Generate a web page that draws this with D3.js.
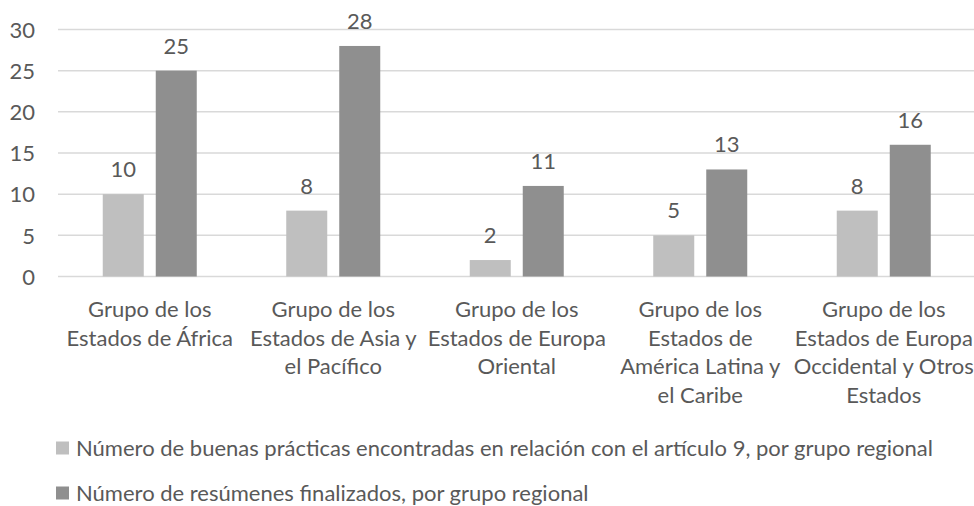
<!DOCTYPE html>
<html>
<head>
<meta charset="utf-8">
<script src="https://cdn.jsdelivr.net/npm/d3@7"></script>
<style>
  body { margin: 0; background: #fff; }
  svg text { font-family: Lato, 'Noto Sans', sans-serif; fill: #595959; }
</style>
</head>
<body>
<div id="chart"></div>
<script>
// Data
var categories = [
  'Grupo de los\nEstados de África',
  'Grupo de los\nEstados de Asia y\nel Pacífico',
  'Grupo de los\nEstados de Europa\nOriental',
  'Grupo de los\nEstados de\nAmérica Latina y\nel Caribe',
  'Grupo de los\nEstados de Europa\nOccidental y Otros\nEstados'
]
var seriesNames = [
  'Número de buenas prácticas encontradas en relación con el artículo 9, por grupo regional',
  'Número de resúmenes finalizados, por grupo regional'
]
var buenasPracticas = [10, 8, 2, 5, 8]
var resumenes = [25, 28, 11, 13, 16]
var yTicks = [0, 5, 10, 15, 20, 25, 30]

var seriesColors = ['#bfbfbf', '#8f8f8f']

var width = 974
var height = 506
var margin = { top: 29.5, left: 58, right: -1.5, bottom: 229.5 }
var fontSize = 22

var svg = d3
  .select('#chart')
  .append('svg')
  .attr('width', width)
  .attr('height', height)

var xScale = d3
  .scaleBand()
  .domain(d3.range(categories.length))
  .range([margin.left, width - margin.right])

// two bars 41px wide with a 12px gap, centred in each band
var groupWidth = 94
var innerScale = d3
  .scaleBand()
  .domain([0, 1])
  .range([xScale.bandwidth() / 2 - groupWidth / 2, xScale.bandwidth() / 2 + groupWidth / 2])
  .paddingInner(12 / 53)

var yScale = d3
  .scaleLinear()
  .domain([0, 30])
  .range([height - margin.bottom, margin.top])

// gridlines
svg.append('g')
  .selectAll('line')
  .data(yTicks)
  .enter()
  .append('line')
  .attr('x1', margin.left)
  .attr('x2', width)
  .attr('y1', d => yScale(d))
  .attr('y2', d => yScale(d))
  .attr('stroke', '#d9d9d9')
  .attr('stroke-width', 1.5)

// y axis labels
var yAxis = d3.axisLeft(yScale).tickValues(yTicks).tickSize(0).tickPadding(0)
svg.append('g')
  .attr('transform', 'translate(35,0)')
  .call(yAxis)
  .call(g => g.select('.domain').remove())
  .selectAll('text')
  .attr('font-size', fontSize)
  .attr('font-family', null)
  .attr('fill', '#595959')
  .attr('dy', '0.35em')

var rows = categories.map((c, i) => ({ i: i, values: [buenasPracticas[i], resumenes[i]] }))

var groups = svg.append('g')
  .selectAll('g')
  .data(rows)
  .enter()
  .append('g')
  .attr('transform', d => `translate(${xScale(d.i)},0)`)

groups.selectAll('rect')
  .data(d => d.values)
  .enter()
  .append('rect')
  .attr('x', (d, j) => innerScale(j))
  .attr('width', innerScale.bandwidth())
  .attr('y', d => yScale(d))
  .attr('height', d => yScale(0) - yScale(d))
  .attr('fill', (d, j) => seriesColors[j])

// value labels
groups.selectAll('text')
  .data(d => d.values)
  .enter()
  .append('text')
  .attr('x', (d, j) => innerScale(j) + innerScale.bandwidth() / 2)
  .attr('y', d => yScale(d) - 17)
  .attr('text-anchor', 'middle')
  .attr('font-size', fontSize)
  .text(d => d)

// category labels
var lineHeight = 28.7
svg.append('g')
  .selectAll('text')
  .data(categories)
  .enter()
  .append('text')
  .attr('text-anchor', 'middle')
  .attr('font-size', fontSize)
  .attr('transform', (d, i) => `translate(${xScale(i) + xScale.bandwidth() / 2},317)`)
  .each(function (d) {
    d3.select(this)
      .selectAll('tspan')
      .data(d.split('\n'))
      .enter()
      .append('tspan')
      .attr('x', 0)
      .attr('y', (l, k) => k * lineHeight)
      .text(l => l)
  })

// legend
var legend = svg.append('g')
  .selectAll('g')
  .data(seriesNames)
  .enter()
  .append('g')
  .attr('transform', (d, i) => `translate(56,${448 + i * 45})`)

legend.append('rect')
  .attr('x', 0)
  .attr('y', -6.5)
  .attr('width', 13)
  .attr('height', 13)
  .attr('fill', (d, i) => seriesColors[i])

legend.append('text')
  .attr('x', 20)
  .attr('dy', '0.35em')
  .attr('font-size', fontSize)
  .text(d => d)
</script>
</body>
</html>
